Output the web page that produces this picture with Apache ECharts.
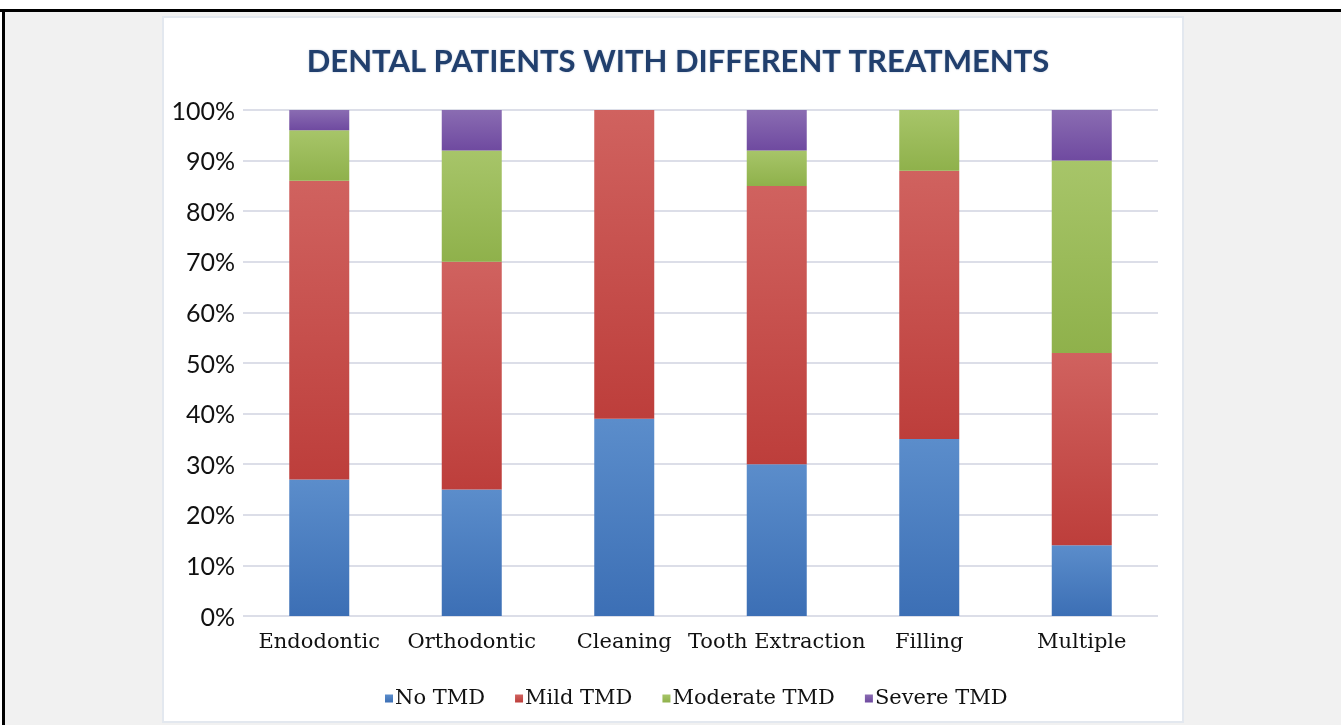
<!DOCTYPE html>
<html>
<head>
<meta charset="utf-8">
<script src="https://cdn.jsdelivr.net/npm/echarts@6/dist/echarts.min.js"></script>
<style>
  html, body { margin: 0; padding: 0; background: #ffffff; }
  #chart { width: 1341px; height: 725px; }
</style>
</head>
<body>
<div id="chart"></div>
<script>
// Treatment categories and the share of patients per TMD level (percent)
const categories = ['Endodontic', 'Orthodontic', 'Cleaning', 'Tooth Extraction', 'Filling', 'Multiple'];
const noTMD       = [27, 25, 39, 30, 35, 14];
const mildTMD     = [59, 45, 61, 55, 53, 38];
const moderateTMD = [10, 22, 0, 7, 12, 38];
const severeTMD   = [4, 8, 0, 8, 0, 10];
const seriesNames = ['No TMD', 'Mild TMD', 'Moderate TMD', 'Severe TMD'];
const yTicks = [0, 10, 20, 30, 40, 50, 60, 70, 80, 90, 100];

const chart = echarts.init(document.getElementById('chart'));

function grad(top, bottom) {
  return new echarts.graphic.LinearGradient(0, 0, 0, 1, [
    { offset: 0, color: top },
    { offset: 1, color: bottom }
  ]);
}

const fills = [
  grad('#5b8dcb', '#3c6fb5'),
  grad('#d0625f', '#bd3e3b'),
  grad('#a7c569', '#8fb14b'),
  grad('#8a6cb2', '#6f4aa0')
];
const legendColors = ['#4f81bd', '#c0504d', '#9bbb59', '#8064a2'];
const dataSets = [noTMD, mildTMD, moderateTMD, severeTMD];

const serifFont = '"DejaVu Serif", "Liberation Serif", serif';

const option = {
  backgroundColor: '#ffffff',
  animation: false,
  graphic: [
    // grey page behind the chart card
    { type: 'rect', z: -10, shape: { x: 4, y: 11, width: 1337, height: 714 }, style: { fill: '#f1f1f1' } },
    // frame lines
    { type: 'rect', z: -9, shape: { x: 0, y: 9, width: 1341, height: 3 }, style: { fill: '#000000' } },
    { type: 'rect', z: -9, shape: { x: 2, y: 9, width: 3, height: 716 }, style: { fill: '#000000' } },
    // white chart card
    { type: 'rect', z: -8, shape: { x: 163, y: 17, width: 1020, height: 705 },
      style: { fill: '#ffffff', stroke: '#e3e8ef', lineWidth: 2 } }
  ],
  title: {
    text: 'DENTAL PATIENTS WITH DIFFERENT TREATMENTS',
    left: 673,
    textAlign: 'center',
    top: 41,
    textStyle: {
      fontFamily: 'Lato, "Open Sans", sans-serif',
      fontWeight: 'bold',
      fontSize: 31,
      color: '#213f6d',
      textShadowColor: 'rgba(60,90,140,0.35)',
      textShadowBlur: 2
    }
  },
  legend: {
    data: seriesNames,
    left: 380,
    top: 683,
    icon: 'rect',
    itemWidth: 8,
    itemHeight: 8,
    itemGap: 30,
    textStyle: { fontFamily: serifFont, fontSize: 21, color: '#111111', padding: [0, 0, 0, -3] }
  },
  grid: { left: 243, right: 183, top: 110, bottom: 109, containLabel: false },
  xAxis: {
    type: 'category',
    data: categories,
    axisLine: { show: false },
    axisTick: { show: false },
    axisLabel: {
      margin: 16,
      fontFamily: serifFont,
      fontSize: 21,
      color: '#111111',
      interval: 0
    }
  },
  yAxis: {
    type: 'value',
    min: yTicks[0],
    max: yTicks[yTicks.length - 1],
    interval: 10,
    axisLine: { show: false },
    axisTick: { show: false },
    splitLine: { lineStyle: { color: '#dcdee8', width: 2 } },
    axisLabel: {
      margin: 8,
      fontFamily: 'Lato, "Open Sans", sans-serif',
      fontSize: 25,
      color: '#111111',
      verticalAlign: 'top',
      padding: [-11, 0, 0, 0],
      formatter: v => v + '%'
    }
  },
  series: seriesNames.map((name, i) => ({
    name: name,
    type: 'bar',
    stack: 'total',
    barWidth: 60,
    data: dataSets[i],
    color: legendColors[i],
    itemStyle: { color: fills[i] }
  }))
};

chart.setOption(option);
</script>
</body>
</html>
